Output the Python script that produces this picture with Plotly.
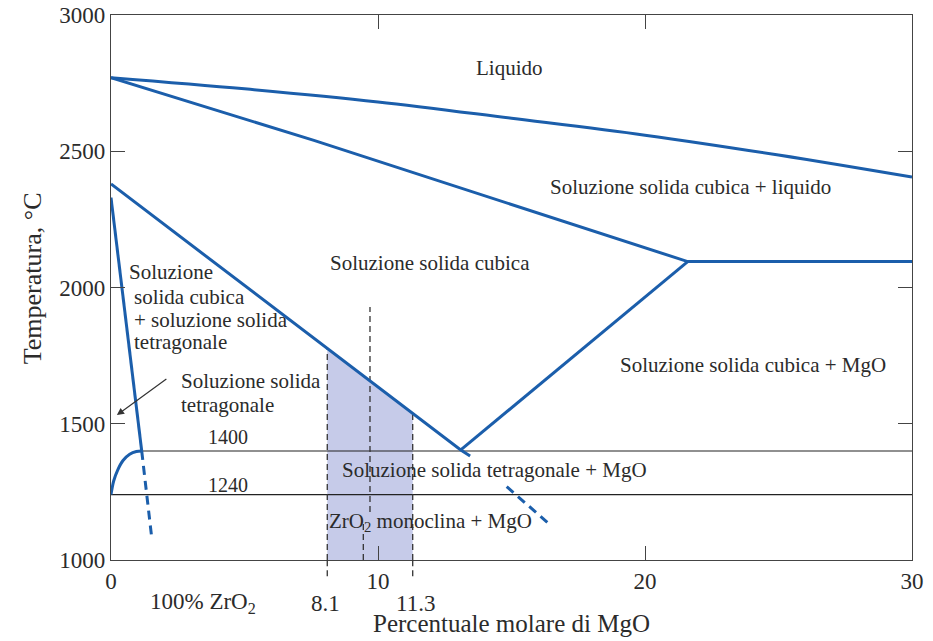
import numpy as np
import plotly.graph_objects as go

# ---------------- data ----------------
liquidus_x = [0, 5, 10, 15, 20, 25, 30]
liquidus_y = [2770, 2729, 2681, 2621, 2559, 2486, 2405]

solidus_x = [0, 7.6, 21.6, 30]
solidus_y = [2770, 2540, 2095, 2095]

cubic_solvus_x = [0, 13.1, 13.45]
cubic_solvus_y = [2380, 1404, 1382]

mgo_solvus_x = [13.1, 21.6]
mgo_solvus_y = [1404, 2095]

tetra_dash_x = [14.82, 16.38]
tetra_dash_y = [1269, 1135]

left_x = [0, 1.15]
left_y = [2330, 1400]
left_dash_x = [1.15, 1.52]
left_dash_y = [1400, 1086]

eutectoid_curve_x = [0, 0.1, 0.25, 0.45, 0.7, 0.95, 1.15]
eutectoid_curve_y = [1240, 1290, 1330, 1365, 1388, 1398, 1400]

iso_1400 = [1.15, 30, 1400]
iso_1240 = [0, 30, 1240]

shade_x = [8.1, 11.3]
dash_guides = [(9.70, 1176, 1928), (9.45, 1000, 1147)]

x_ticks = [0, 10, 20, 30]
y_ticks = [1000, 1500, 2000, 2500, 3000]

BLUE = "#1b5eab"
FONT = "Liberation Serif"
TXT = "#2b2b2b"

fig = go.Figure()

# shaded composition window
top = np.interp(shade_x, cubic_solvus_x, cubic_solvus_y)
fig.add_trace(go.Scatter(
    x=[shade_x[0], shade_x[0], shade_x[1], shade_x[1], shade_x[0]],
    y=[1000, top[0], top[1], 1000, 1000],
    fill="toself", fillcolor="#c6cbe9", line=dict(width=0),
    mode="lines", hoverinfo="skip", showlegend=False))

# isotherms
fig.add_trace(go.Scatter(x=iso_1400[:2], y=[iso_1400[2]] * 2, mode="lines",
                         line=dict(color="#222", width=1.2), showlegend=False))
fig.add_trace(go.Scatter(x=iso_1240[:2], y=[iso_1240[2]] * 2, mode="lines",
                         line=dict(color="#222", width=1.2), showlegend=False))

# dashed vertical guides
for xv, yt in zip(shade_x, top):
    fig.add_trace(go.Scatter(x=[xv, xv], y=[1000, yt], mode="lines",
                             line=dict(color="#333", width=1.3, dash="6px,4px"),
                             showlegend=False))
    fig.add_shape(type="line", xref="x", yref="paper", x0=xv, x1=xv, y0=-0.03, y1=0,
                  line=dict(color="#333", width=1.3, dash="6px,4px"))
for xv, y0, y1 in dash_guides:
    fig.add_trace(go.Scatter(x=[xv, xv], y=[y0, y1], mode="lines",
                             line=dict(color="#333", width=1.3, dash="6px,4px"),
                             showlegend=False))

# blue phase boundaries
solid = [(liquidus_x, liquidus_y, "spline"), (solidus_x, solidus_y, "linear"),
         (cubic_solvus_x, cubic_solvus_y, "linear"), (mgo_solvus_x, mgo_solvus_y, "linear"),
         (left_x, left_y, "linear"), (eutectoid_curve_x, eutectoid_curve_y, "spline")]
for xs, ys, shp in solid:
    fig.add_trace(go.Scatter(x=xs, y=ys, mode="lines", line=dict(color=BLUE, width=3, shape=shp),
                             showlegend=False))
for xs, ys in [(tetra_dash_x, tetra_dash_y), (left_dash_x, left_dash_y)]:
    fig.add_trace(go.Scatter(x=xs, y=ys, mode="lines",
                             line=dict(color=BLUE, width=3, dash="9px,6px"), showlegend=False))

fs = 21
labels = [
    (14.94, 2805, "Liquido", "center", fs),
    (21.7, 2369, "Soluzione solida cubica + liquido", "center", fs),
    (11.95, 2090, "Soluzione solida cubica", "center", fs),
    (24.04, 1716, "Soluzione solida cubica + MgO", "center", fs),
    (14.38, 1330, "Soluzione solida tetragonale + MgO", "center", fs),
    (11.95, 1139, "ZrO<sub>2</sub> monoclina + MgO", "center", fs),
    (4.38, 1451, "1400", "center", 20),
    (4.38, 1275, "1240", "center", 20),
    (0.60, 2057, "Soluzione", "left", fs),
    (0.80, 1965, "solida cubica", "left", fs),
    (0.80, 1881, "+ soluzione solida", "left", fs),
    (0.80, 1800, "tetragonale", "left", fs),
    (2.55, 1657, "Soluzione solida", "left", fs),
    (2.55, 1569, "tetragonale", "left", fs),
]
for x, y, t, a, s in labels:
    fig.add_annotation(x=x, y=y, text=t, showarrow=False, xanchor=a, yanchor="middle",
                       font=dict(family=FONT, size=s, color=TXT))

# arrow
fig.add_annotation(x=0.22, y=1532, ax=2.13, ay=1668, axref="x", ayref="y",
                   showarrow=True, arrowhead=2, arrowsize=1.2, arrowwidth=1.2,
                   arrowcolor="#333", text="")

# second row of x labels
for x, t in [(3.46, "100% ZrO<sub>2</sub>"), (8.05, "8.1"), (11.4, "11.3")]:
    fig.add_annotation(x=x, y=-0.079, xref="x", yref="paper", text=t, showarrow=False,
                       xanchor="center", yanchor="middle",
                       font=dict(family=FONT, size=23, color=TXT))

fig.add_annotation(x=0.5006, y=-0.1174, xref="paper", yref="paper",
                   text="Percentuale molare di MgO", showarrow=False,
                   xanchor="center", yanchor="middle",
                   font=dict(family=FONT, size=25, color=TXT))
fig.add_annotation(x=-0.0986, y=0.517, xref="paper", yref="paper", textangle=-90,
                   text="Temperatura, °C", showarrow=False,
                   xanchor="center", yanchor="middle",
                   font=dict(family=FONT, size=26, color=TXT))

axis_common = dict(showline=True, linecolor="#444", linewidth=1.2, mirror="ticks",
                   ticks="inside", ticklen=14, tickcolor="#444", tickwidth=1.2,
                   showgrid=False, zeroline=False, automargin=False,
                   tickfont=dict(family=FONT, size=23, color=TXT))
fig.update_xaxes(range=[0, 30], tickvals=x_ticks, **axis_common)
fig.update_yaxes(range=[1000, 3000], tickvals=y_ticks, **axis_common)

fig.update_layout(width=933, height=641, margin=dict(l=111, r=21, t=15, b=81),
                  plot_bgcolor="white", paper_bgcolor="white", showlegend=False)

fig.write_html("out.html", config={"displayModeBar": False},
               post_script="document.body.style.margin='0';")
